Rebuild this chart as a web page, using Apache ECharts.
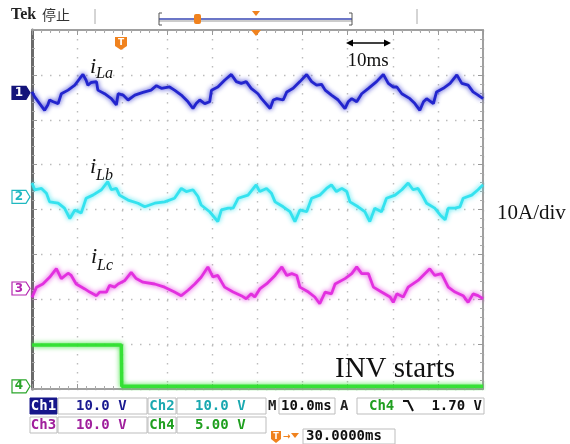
<!DOCTYPE html>
<html><head><meta charset="utf-8">
<script src="https://cdn.jsdelivr.net/npm/echarts@6/dist/echarts.min.js"></script>
<style>html,body{margin:0;padding:0;background:#fff}#c{width:570px;height:444px}</style>
</head><body><div id="c"></div>
<script>
// time in ms, current in A relative to each channel's ground marker
const iLa = [[0,0.2],[0.6,-0.9],[1.7,-2.4],[2.8,-3.9],[3.5,-2.7],[3.9,-1.6],[4.7,-2.0],[5.8,-2.4],[6.5,-0.2],[8.0,0.6],[9.5,1.7],[10.6,3.2],[11.3,4.1],[12.0,2.8],[12.4,1.7],[13.1,2.3],[14.3,2.5],[14.6,0.6],[16.1,-0.2],[17.6,-1.3],[18.7,-2.7],[19.1,-0.2],[20.2,-0.5],[21.3,-1.6],[22.8,-0.5],[24.6,0.1],[26.4,0.6],[27.6,1.6],[28.7,1.0],[30.5,1.3],[31.6,0.6],[33.1,-0.5],[34.6,-2.0],[35.7,-3.5],[36.4,-2.4],[37.2,-1.6],[38.3,-2.4],[39.4,-2.0],[39.8,0.6],[41.2,1.3],[42.7,2.8],[44.2,4.1],[45.3,2.5],[46.4,2.1],[47.5,2.5],[48.6,1.0],[50.1,-0.2],[50.9,-1.3],[52.8,-3.5],[53.5,-1.6],[54.3,-1.3],[55.7,-1.6],[56.5,0.2],[57.9,1.0],[59.4,2.5],[60.9,4.1],[62.0,2.5],[63.1,1.7],[64.2,1.9],[65.0,0.6],[66.4,-0.5],[67.9,-1.6],[69.4,-3.5],[70.1,-2.0],[70.9,-1.3],[72.0,-2.0],[73.1,-0.2],[74.6,1.0],[76.4,2.5],[77.9,4.1],[79.0,2.1],[80.1,1.3],[80.9,1.3],[82.0,-0.2],[83.8,-1.3],[84.9,-2.4],[86.0,-3.9],[86.8,-2.0],[87.5,-1.3],[89.0,-2.4],[89.7,0.2],[91.2,1.0],[92.7,2.1],[94.2,4.0],[95.3,2.1],[96.7,1.7],[97.8,0.2],[98.9,-0.5],[100,-1.3]];
const iLb = [[0,3.1],[0.6,1.6],[2.1,1.9],[3.2,0.8],[3.9,-1.1],[5.8,-1.4],[7.2,-2.5],[8.4,-4.8],[9.5,-2.9],[10.9,-3.6],[12.0,-0.3],[13.5,0.4],[15.4,1.6],[16.8,3.4],[17.6,1.6],[18.7,1.9],[19.4,0.4],[21.3,-0.7],[23.5,-1.4],[25.0,-2.2],[27.2,-1.4],[29.4,-1.1],[31.6,-0.3],[33.1,1.9],[34.2,1.2],[35.7,1.6],[36.8,0.1],[37.5,-1.8],[39.4,-3.3],[41.2,-5.5],[42.0,-2.9],[43.5,-2.5],[44.6,-2.5],[45.7,-0.3],[47.9,0.4],[49.7,2.7],[50.5,1.2],[52.0,1.9],[53.1,0.8],[53.9,-1.1],[55.7,-2.2],[57.2,-3.3],[58.3,-5.5],[59.4,-2.9],[60.9,-3.3],[62.0,-0.3],[63.8,0.4],[65.3,1.9],[66.4,2.7],[67.5,1.2],[68.7,1.9],[69.8,1.2],[70.5,-1.1],[72.3,-2.2],[73.8,-3.3],[74.9,-5.5],[76.0,-2.5],[77.5,-3.3],[78.6,-0.3],[80.5,0.4],[82.0,1.6],[83.4,3.1],[84.5,1.6],[85.6,1.9],[86.7,0.1],[87.5,-1.4],[89.3,-2.5],[90.5,-4.0],[91.6,-5.1],[92.3,-2.5],[93.8,-2.5],[94.9,-2.2],[95.6,-0.3],[97.5,0.4],[98.9,1.6],[100,2.7]];
const iLc = [[0,-2.0],[1.0,0.3],[2.4,1.0],[3.9,2.5],[5.4,4.4],[6.5,2.2],[8.0,3.4],[8.7,2.9],[9.8,1.0],[11.7,-0.1],[12.8,-0.8],[14.3,-1.6],[15.0,-0.8],[16.5,-0.8],[17.2,0.7],[18.3,0.3],[19.1,1.0],[20.6,1.8],[22.0,3.6],[23.1,2.2],[24.6,1.4],[27.2,1.0],[29.4,0.3],[31.6,-0.8],[33.1,-1.6],[34.6,-0.4],[36.1,1.0],[37.5,2.5],[39.0,4.8],[40.1,2.6],[41.2,2.9],[42.7,0.3],[44.6,-0.8],[46.4,-1.6],[47.5,-2.3],[48.6,-1.2],[49.4,-1.9],[50.5,-0.1],[52.0,1.0],[53.9,2.9],[55.4,4.8],[56.5,2.9],[57.6,3.3],[58.7,2.9],[59.4,0.3],[61.3,-0.8],[62.7,-1.9],[63.8,-3.4],[65.0,-0.8],[66.4,-1.2],[67.2,1.0],[69.4,2.2],[70.9,3.3],[72.0,4.8],[73.1,3.3],[74.6,3.3],[75.7,0.3],[77.5,-0.8],[79.4,-1.9],[80.1,-3.1],[80.9,-1.2],[82.3,-1.9],[83.4,0.3],[85.6,1.8],[87.1,3.3],[88.2,4.4],[89.3,2.9],[90.8,3.3],[92.3,0.3],[93.8,-0.8],[95.6,-1.6],[96.7,-3.1],[97.8,-1.2],[98.9,-1.6],[100,-2.3]];
// Ch4 trigger/INV enable signal, volts
const ch4Volts = [[0,4.6],[19.8,4.6],[19.9,0],[100,0]];
// channel ground levels on screen (A, 10 A/div)
const groundCh1 = 26.0, groundCh2 = 2.8, groundCh3 = -17.6, groundCh4 = -39.4;
const ch4AmpPerVolt = 2; // 10 A/div vs 5 V/div
const statusRow1 = ['Ch1','10.0 V','Ch2','10.0 V','M','10.0ms','A','Ch4','1.70 V'];
const statusRow2 = ['Ch3','10.0 V','Ch4','5.00 V'];
const triggerPos = '30.0000ms';

const C1 = '#1c1fcc', C2 = '#2ee2ee', C3 = '#e22ade', C4 = '#30e030', OR = '#f0821e';
const shift = (arr, g, k) => arr.map(p => [p[0], g + p[1] * (k || 1)]);

const chart = echarts.init(document.getElementById('c'), null, {renderer: 'canvas'});
const axX = (pos, split) => ({
  type: 'value', min: 0, max: 100, interval: 10, position: pos,
  axisLine: {show: true, onZero: false, lineStyle: {color: '#a0a0a0', width: 2}},
  axisTick: {show: true, inside: true, length: 5, lineStyle: {color: '#999'}},
  minorTick: {show: true, splitNumber: 5, length: 3, lineStyle: {color: '#aaa'}},
  axisLabel: {show: false},
  splitLine: {show: split, lineStyle: {color: '#bbbbbb', type: [1.5, 7.5], width: 1.4}}
});
const axY = (pos, split, col, w) => ({
  type: 'value', min: -40, max: 40, interval: 10, position: pos,
  axisLine: {show: true, onZero: false, lineStyle: {color: col, width: w}},
  axisTick: {show: true, inside: true, length: 5, lineStyle: {color: '#999'}},
  minorTick: {show: true, splitNumber: 5, length: 3, lineStyle: {color: '#aaa'}},
  axisLabel: {show: false},
  splitLine: {show: split, lineStyle: {color: '#bbbbbb', type: [1.5, 7.5], width: 1.4}}
});
const lineS = (data, color, w) => ({
  type: 'line', data, showSymbol: false, animation: false, z: 3,
  lineStyle: {color, width: w, opacity: 0.95, shadowBlur: 5, shadowColor: color}
});
chart.setOption({
  animation: false,
  grid: {left: 32, right: 87, top: 30, bottom: 55},
  xAxis: [axX('bottom', true), axX('top', false)],
  yAxis: [axY('left', true, '#6a6a6a', 3), axY('right', false, '#a0a0a0', 2)],
  series: [
    lineS(shift(iLa, groundCh1), C1, 2.8),
    lineS(shift(iLb, groundCh2), C2, 2.8),
    lineS(shift(iLc, groundCh3), C3, 2.8),
    lineS(shift(ch4Volts, groundCh4, ch4AmpPerVolt), C4, 3.5)
  ]
});

const gY = v => chart.convertToPixel({yAxisIndex: 0}, v);
const marker = (num, g, color, filled) => {
  const y = gY(g), x0 = 12;
  return [
    {type: 'polygon', shape: {points: [[x0, y-6.5],[x0+14, y-6.5],[x0+18, y],[x0+14, y+6.5],[x0, y+6.5]]},
     style: {fill: filled ? '#14147a' : '#fff', stroke: color, lineWidth: 1.2}},
    {type: 'text', x: x0+7, y: y, style: {text: num, fill: filled ? '#fff' : color, font: 'bold 12px "DejaVu Sans"', align: 'center', verticalAlign: 'middle'}}
  ];
};
const txt = (x, y, text, fill, font, align) => ({type: 'text', x, y, z: 10, style: {text, fill, font, align: align || 'left', verticalAlign: 'middle'}});
const box = (x, y, w, h, fill, stroke) => ({type: 'rect', shape: {x, y, width: w, height: h}, style: {fill: fill || '#fff', stroke: stroke || '#bdbdbd', lineWidth: 1}});
const mono = 'bold 14px "DejaVu Sans Mono"';
const serifI = 'italic 22px "Liberation Serif"';
const serifS = 'italic 16px "Liberation Serif"';

const g = [];
// top status
g.push(txt(11, 15, 'Tek', '#222', 'bold 16px "Liberation Serif"'));
g.push(txt(42, 15, '停止', '#333', '14px "Noto Sans CJK SC"'));
g.push({type: 'line', shape: {x1: 95, y1: 9, x2: 95, y2: 24}, style: {stroke: '#aaa', lineWidth: 1}});
g.push({type: 'line', shape: {x1: 417, y1: 9, x2: 417, y2: 24}, style: {stroke: '#aaa', lineWidth: 1}});
g.push({type: 'line', shape: {x1: 159, y1: 21, x2: 352, y2: 21}, style: {stroke: '#999', lineWidth: 1}});
g.push({type: 'line', shape: {x1: 159, y1: 19, x2: 352, y2: 19}, style: {stroke: '#3a48b4', lineWidth: 1.6}});
g.push({type: 'polyline', shape: {points: [[162,13],[159,13],[159,25],[162,25]]}, style: {stroke: '#555', lineWidth: 1, fill: null}});
g.push({type: 'polyline', shape: {points: [[349,13],[352,13],[352,25],[349,25]]}, style: {stroke: '#555', lineWidth: 1, fill: null}});
g.push({type: 'rect', shape: {x: 194, y: 14, width: 7, height: 10, r: 2}, style: {fill: OR}});
g.push({type: 'polygon', shape: {points: [[252,11],[260,11],[256,16]]}, style: {fill: OR}});
g.push({type: 'polygon', shape: {points: [[251,30],[261,30],[256,36]]}, style: {fill: OR}, z: 10});
// trigger T marker
g.push({type: 'polygon', shape: {points: [[115,37],[127,37],[127,46],[121,50],[115,46]]}, style: {fill: OR}, z: 10});
g.push(txt(121, 43, 'T', '#fff', 'bold 9px "DejaVu Sans"', 'center'));
// 10ms arrow
g.push({type: 'line', shape: {x1: 350, y1: 43, x2: 387, y2: 43}, style: {stroke: '#000', lineWidth: 1.5}, z: 10});
g.push({type: 'polygon', shape: {points: [[346,43],[353,39.5],[353,46.5]]}, style: {fill: '#000'}, z: 10});
g.push({type: 'polygon', shape: {points: [[391,43],[384,39.5],[384,46.5]]}, style: {fill: '#000'}, z: 10});
g.push(txt(368, 61, '10ms', '#111', '19px "Liberation Serif"', 'center'));
// trace labels
g.push({type: 'text', x: 90, y: 78, z: 10, style: {text: 'i', fill: '#111', font: serifI, verticalAlign: 'bottom'}});
g.push({type: 'text', x: 96, y: 82, z: 10, style: {text: 'La', fill: '#111', font: serifS, verticalAlign: 'bottom'}});
g.push({type: 'text', x: 90, y: 178, z: 10, style: {text: 'i', fill: '#111', font: serifI, verticalAlign: 'bottom'}});
g.push({type: 'text', x: 96, y: 184, z: 10, style: {text: 'Lb', fill: '#111', font: serifS, verticalAlign: 'bottom'}});
g.push({type: 'text', x: 91, y: 268, z: 10, style: {text: 'i', fill: '#111', font: serifI, verticalAlign: 'bottom'}});
g.push({type: 'text', x: 97, y: 274, z: 10, style: {text: 'Lc', fill: '#111', font: serifS, verticalAlign: 'bottom'}});
g.push(txt(497, 213, '10A/div', '#111', '21px "Liberation Serif"'));
g.push(txt(335, 369, 'INV starts', '#111', '29px "Liberation Serif"'));
// ground markers
g.push(...marker('1', groundCh1, '#14147a', true));
g.push(...marker('2', groundCh2, '#1fb8c0', false));
g.push(...marker('3', groundCh3, '#b425b0', false));
g.push(...marker('4', groundCh4, '#2aa52a', false));
// bottom status rows
g.push(box(30, 398, 27, 16, '#16168a', '#16168a'));
g.push(txt(43.5, 406, statusRow1[0], '#fff', mono, 'center'));
g.push(box(58, 398, 89, 16));
g.push(txt(76, 406, statusRow1[1], '#1a1a90', mono));
g.push(box(148, 398, 28, 16));
g.push(txt(162, 406, statusRow1[2], '#1aa8b0', mono, 'center'));
g.push(box(177, 398, 89, 16));
g.push(txt(195, 406, statusRow1[3], '#1aa8b0', mono));
g.push(txt(268, 406, statusRow1[4], '#222', mono));
g.push(box(279, 398, 56, 16));
g.push(txt(281, 406, statusRow1[5], '#111', mono));
g.push(txt(340, 406, statusRow1[6], '#222', mono));
g.push(box(357, 398, 127, 16));
g.push(txt(369, 406, statusRow1[7], '#1f9f1f', mono));
g.push({type: 'polyline', shape: {points: [[403,401],[408,401],[413,411]]}, style: {stroke: '#111', lineWidth: 2, fill: null}, z: 10});
g.push(txt(482, 406, statusRow1[8], '#111', mono, 'right'));
g.push(box(30, 417, 27, 16));
g.push(txt(43.5, 425, statusRow2[0], '#a0209c', mono, 'center'));
g.push(box(58, 417, 89, 16));
g.push(txt(76, 425, statusRow2[1], '#a0209c', mono));
g.push(box(148, 417, 28, 16));
g.push(txt(162, 425, statusRow2[2], '#1f9f1f', mono, 'center'));
g.push(box(177, 417, 89, 16));
g.push(txt(195, 425, statusRow2[3], '#1f9f1f', mono));
g.push({type: 'polygon', shape: {points: [[271,431],[281,431],[281,439],[276,443],[271,439]]}, style: {fill: OR}});
g.push(txt(276, 436.5, 'T', '#fff', 'bold 8px "DejaVu Sans"', 'center'));
g.push(txt(283, 436.5, '→', OR, 'bold 9px "DejaVu Sans"'));
g.push({type: 'polygon', shape: {points: [[291,433],[299,433],[295,438]]}, style: {fill: OR}});
g.push(box(303, 429, 92, 15));
g.push(txt(306, 436.5, triggerPos, '#111', mono));
chart.setOption({graphic: g});
</script></body></html>
